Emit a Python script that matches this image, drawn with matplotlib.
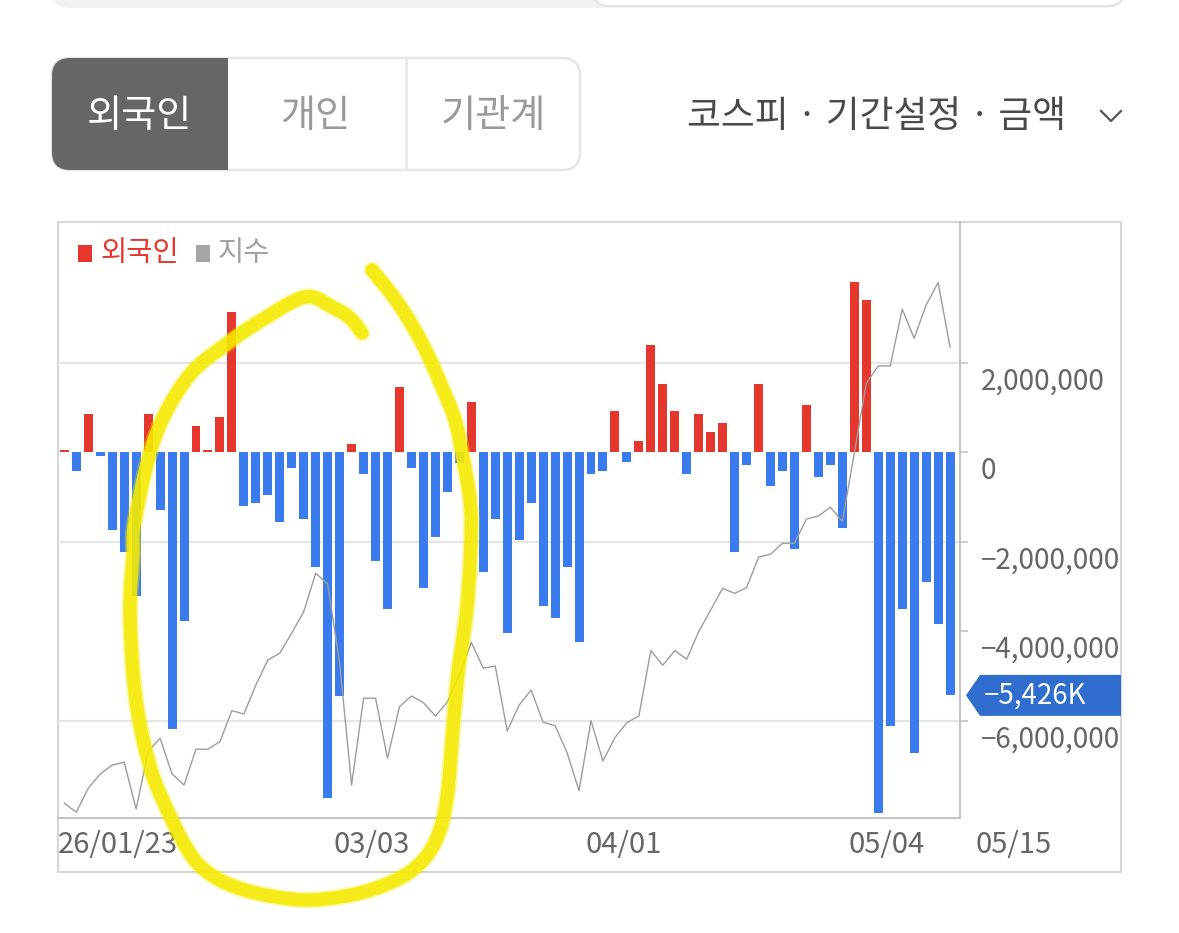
import numpy as np
import matplotlib
matplotlib.use('Agg')
import matplotlib.pyplot as plt
from matplotlib.patches import Rectangle, FancyBboxPatch, Polygon
from matplotlib.ticker import FuncFormatter
from matplotlib.transforms import ScaledTranslation

plt.rcParams['font.family'] = ['Noto Sans CJK KR', 'DejaVu Sans']

# 외국인 순매수 (단위: K = 1,000), 26/01/23 ~ 05/15 거래일
foreign_k = [50, -410, 860, -80, -1740, -2220, -3200, 860, -1280, -6170,
             -3760, 590, 50, 790, 3130, -1210, -1140, -950, -1550, -350,
             -1490, -2560, -7720, -5440, 190, -480, -2420, -3500, 1460, -350,
             -3020, -1890, -880, -250, 1120, -2680, -1490, -4030, -1950, -1140,
             -3430, -3690, -2560, -4230, -480, -410, 920, -210, 250, 2390,
             1520, 920, -480, 860, 450, 650, -2220, -280, 1520, -750,
             -410, -2150, 1060, -550, -280, -1690, 3800, 3400, -8050, -6110,
             -3500, -6710, -2890, -3830, -5426]

# 지수 (코스피)
kospi = [4074, 4029, 4149, 4220, 4265, 4279, 4045, 4332, 4399, 4220,
         4165, 4344, 4344, 4382, 4537, 4520, 4665, 4790, 4824, 4925,
         5032, 5224, 5170, 4775, 4165, 4599, 4599, 4299, 4557, 4610,
         4577, 4510, 4580, 4715, 4878, 4749, 4760, 4435, 4565, 4640,
         4479, 4462, 4327, 4137, 4487, 4285, 4402, 4477, 4510, 4837,
         4764, 4837, 4794, 4932, 5040, 5149, 5123, 5152, 5304, 5319,
         5374, 5374, 5495, 5510, 5554, 5482, 5825, 6174, 6260, 6260,
         6544, 6399, 6565, 6677, 6354]

tick_idx = [0, 23, 44, 66]
tick_labels = ['26/01/23', '03/03', '04/01', '05/04']
end_label = '05/15'
y_ticks = [2000000, 0, -2000000, -4000000, -6000000]
grid_vals = [2000000, -2000000, -6000000]
tabs = ['외국인', '개인', '기관계']
menu_text = '코스피 · 기간설정 · 금액'

RED = '#e5372d'
BLUE = '#3a7cef'
W, H = 1179, 933

fig = plt.figure(figsize=(W / 100, H / 100), dpi=100)


def fr(x0, y0, x1, y1):
    return [x0 / W, 1 - y1 / H, (x1 - x0) / W, (y1 - y0) / H]


# background layer (pixel coordinates)
bg = fig.add_axes([0, 0, 1, 1], zorder=-5)
bg.set_xlim(0, W)
bg.set_ylim(H, 0)
bg.axis('off')

bg.add_patch(FancyBboxPatch((52, -60), 1073, 68, boxstyle='round,pad=0,rounding_size=18',
                            fc='#f1f1f1', ec='none'))
bg.add_patch(FancyBboxPatch((592, -60), 533, 66, boxstyle='round,pad=0,rounding_size=18',
                            fc='white', ec='#e4e4e4', lw=1.5))

# tabs
bg.add_patch(FancyBboxPatch((52, 58), 528, 112, boxstyle='round,pad=0,rounding_size=18',
                            fc='white', ec='#e6e6e6', lw=1.8))
bg.add_patch(FancyBboxPatch((52, 58), 176, 112, boxstyle='round,pad=0,rounding_size=18',
                            fc='#666666', ec='none'))
bg.add_patch(Rectangle((200, 58), 28, 112, fc='#666666', ec='none'))
bg.plot([406, 406], [60, 168], color='#e6e6e6', lw=1.8)
for cx, t, c in zip([140, 315, 493], tabs, ['white', '#9a9a9a', '#9a9a9a']):
    bg.text(cx, 116, t, ha='center', va='center', fontsize=27.5, color=c)
bg.text(687, 117, menu_text, ha='left', va='center', fontsize=26.5, color='#4a4a4a')
bg.plot([1101, 1111, 1121], [111, 121, 111], color='#555555', lw=1.6)

# chart frame
bg.add_patch(Rectangle((58, 222), 1063, 650, fc='white', ec='#d0d0d0', lw=1.2))

# main chart
ax = fig.add_axes(fr(58, 222, 960, 818))
ax2 = ax.twinx()
ax.set_facecolor('none')

x = np.arange(len(foreign_k))
vals = np.array(foreign_k) * 1000
colors = np.where(vals >= 0, RED, BLUE)
ax.bar(x, vals, width=0.75, color=colors, zorder=2)
for g in grid_vals:
    ax.axhline(g, color='#e6e6e6', lw=1.6, zorder=0)
ax.set_xlim(-0.53, len(x) - 1 + 0.83)
ax.set_ylim(-8163000, 5140000)

ax2.plot(x, kospi, color='#9d9d9d', lw=1.0)
ax2.set_ylim(4000, 6980)
ax2.axis('off')

for s in ['left', 'top']:
    ax.spines[s].set_visible(False)
for s in ['right', 'bottom']:
    ax.spines[s].set_color('#c4c4c4')
    ax.spines[s].set_linewidth(1.5)

ax.yaxis.tick_right()
ax.set_yticks(y_ticks)
ax.yaxis.set_major_formatter(FuncFormatter(lambda v, p: f'{v:,.0f}'.replace('-', '\u2212')))
ax.tick_params(axis='y', length=6, width=1.2, color='#c4c4c4', pad=9, labelsize=20,
               labelcolor='#666666')
off = ScaledTranslation(0, -0.15, fig.dpi_scale_trans)
for lbl in ax.get_yticklabels():
    lbl.set_transform(lbl.get_transform() + off)

ax.set_xticks(np.array(tick_idx) - 0.5)
ax.set_xticklabels(tick_labels)
ax.tick_params(axis='x', length=0, pad=9, labelsize=21, labelcolor='#666666')
for lbl in ax.get_xticklabels():
    lbl.set_horizontalalignment('left')
ax.annotate(end_label, xy=(len(x) - 1 + 2.1, 0), xycoords=('data', 'axes fraction'),
            xytext=(0, -9), textcoords='offset points', ha='left', va='top',
            fontsize=21, color='#666666', annotation_clip=False)

# foreground layer
fg = fig.add_axes([0, 0, 1, 1], zorder=20)
fg.set_xlim(0, W)
fg.set_ylim(H, 0)
fg.axis('off')

# legend
fg.add_patch(Rectangle((78, 245), 14, 17, fc=RED, ec='none'))
fg.text(100, 253, '외국인', ha='left', va='center', fontsize=20.5, color=RED)
fg.add_patch(Rectangle((196, 245), 14, 17, fc='#a6a6a6', ec='none'))
fg.text(218, 253, '지수', ha='left', va='center', fontsize=20.5, color='#a0a0a0')

# last value badge
yb = H - ax.transData.transform((0, vals[-1]))[1]
fg.add_patch(Polygon([(966, yb), (980, yb - 20.5), (1121, yb - 20.5), (1121, yb + 20.5),
                      (980, yb + 20.5)], closed=True, fc='#2f6ecf', ec='none'))
fg.text(984, yb, f'\u2212{abs(vals[-1]) / 1000:,.0f}K', ha='left', va='center',
        fontsize=20, color='white')

# hand-drawn yellow circle
pts = [(372, 270), (398, 303), (422, 343), (442, 387), (455, 420), (462, 453), (470, 500),
       (471, 540), (467, 607), (458, 673), (452, 740), (448, 790), (440, 830), (425, 858),
       (400, 878), (360, 893), (310, 900), (265, 895), (228, 884), (200, 866), (182, 840),
       (165, 805), (152, 773), (140, 725), (133, 673), (130, 607), (133, 557), (135, 520),
       (155, 437), (188, 377), (228, 343), (262, 320), (305, 297), (332, 307), (350, 318),
       (362, 333)]


def catmull(p, n=16):
    p = np.asarray(p, float)
    p = np.vstack([p[0], p, p[-1]])
    out = []
    t = np.linspace(0, 1, n, endpoint=False)[:, None]
    for i in range(1, len(p) - 2):
        p0, p1, p2, p3 = p[i - 1], p[i], p[i + 1], p[i + 2]
        out.append(0.5 * (2 * p1 + (-p0 + p2) * t + (2 * p0 - 5 * p1 + 4 * p2 - p3) * t ** 2
                          + (-p0 + 3 * p1 - 3 * p2 + p3) * t ** 3))
    out.append(p[-2][None])
    return np.vstack(out)


sp = catmull(pts)
fg.plot(sp[:, 0], sp[:, 1], color='#f5ea00', lw=12, alpha=0.35, solid_capstyle='round')
fg.plot(sp[:, 0], sp[:, 1], color='#f5ea00', lw=9.5, alpha=0.85, solid_capstyle='round')

fig.savefig('out.png', dpi=100)
